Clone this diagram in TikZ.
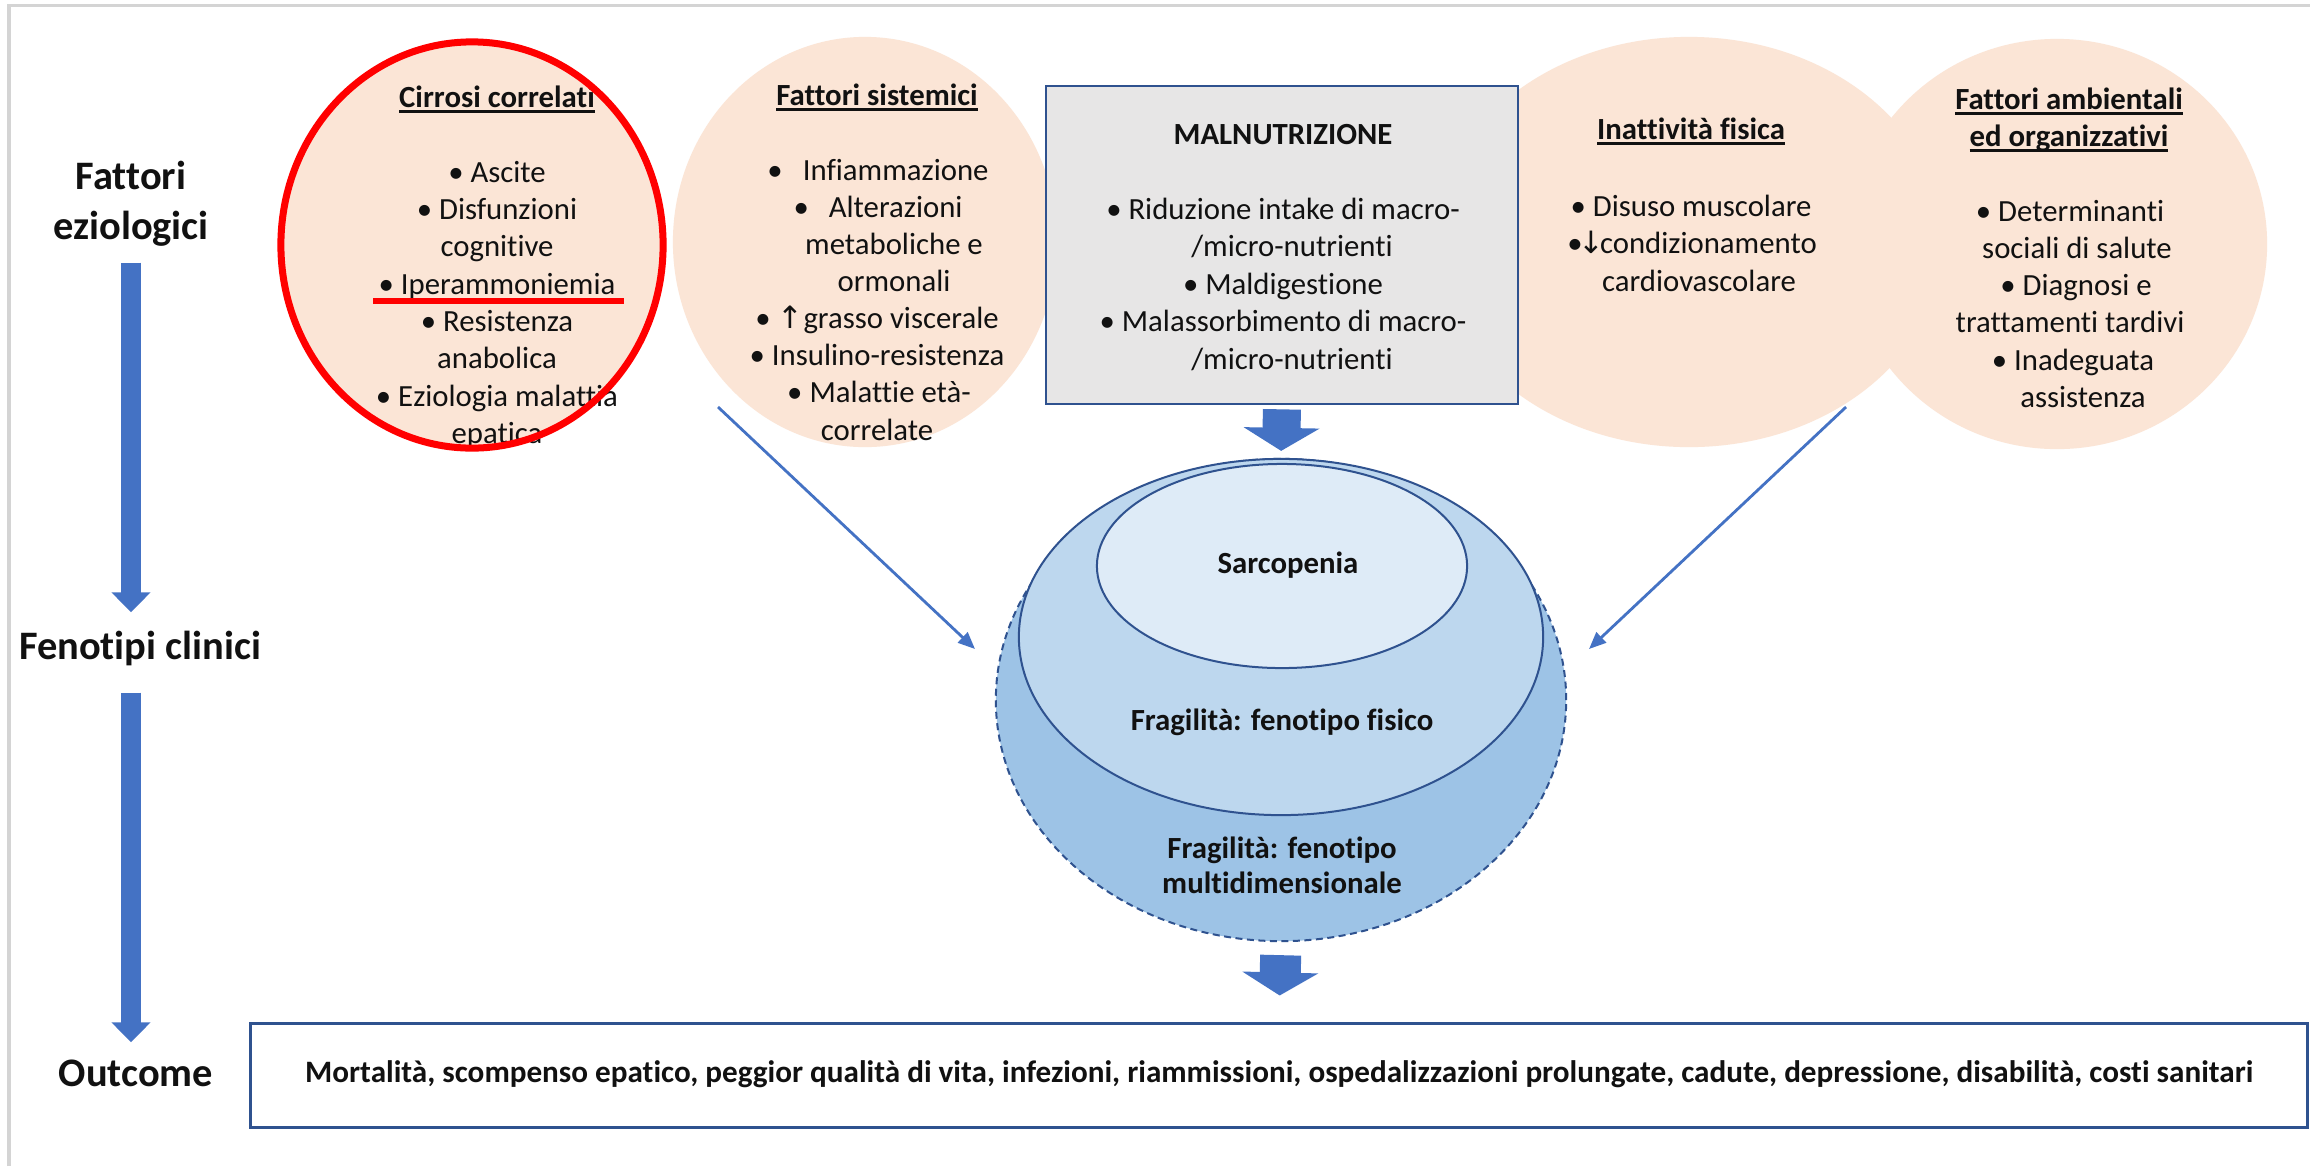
\documentclass[tikz,border=0pt]{standalone}
\usepackage{fontspec}
\setmainfont{Carlito}[Ligatures=NoCommon]
\newfontfamily\arrowfont{DejaVu Sans}
\usetikzlibrary{shapes.geometric,arrows.meta}

\definecolor{peach}{HTML}{FBE5D6}
\definecolor{boxgray}{HTML}{E7E6E6}
\definecolor{navy}{HTML}{2F528F}
\definecolor{accent}{HTML}{4472C4}
\definecolor{blueA}{HTML}{DEEBF7}
\definecolor{blueB}{HTML}{BDD7EE}
\definecolor{blueC}{HTML}{9DC3E6}
\definecolor{framegray}{HTML}{D4D4D4}
\definecolor{ink}{HTML}{111111}

% underline sitting just below the baseline, independent of descenders
\newsavebox\ulbox
\newcommand\ulin[1]{\sbox\ulbox{#1}\rlap{\rule[-0.17em]{\wd\ulbox}{0.08em}}\usebox\ulbox}

\tikzset{
  txt/.style={font=\fontsize{8.75pt}{10.5pt}\selectfont, text=ink, inner sep=0pt,
              text height=0.62em, text depth=0.2em, anchor=center},
  ttl/.style={txt, font=\fontsize{8.75pt}{10.5pt}\selectfont\bfseries},
  side/.style={font=\fontsize{11.5pt}{13pt}\selectfont\bfseries, text=ink, inner sep=0pt,
               text height=0.25cm, text depth=0.08cm},
  blob/.style={ellipse, fill=peach, draw=none, inner sep=0pt},
  layer/.style={ellipse, draw=navy, line width=0.02cm, inner sep=0pt},
  bigarrow/.style={accent, line width=0.2cm, -{Triangle[width=0.38cm,length=0.2cm]}},
  blockarrow/.style={accent, line width=0.38cm, -{Triangle[width=0.75cm,length=0.23cm]}},
  thinarrow/.style={accent, line width=0.028cm, -{Triangle[width=0.14cm,length=0.17cm]}},
}

\begin{document}
\begin{tikzpicture}[x=0.01cm, y=-0.01cm]
\useasboundingbox (0,0) rectangle (2310,1166);
\fill[white] (0,0) rectangle (2310,1166);

% page frame (top and left edges)
\draw[framegray, line width=0.03cm] (9,1166) -- (9,5) -- (2310,5);

% etiological factor bubbles
\node[blob, minimum width=3.82cm, minimum height=4.06cm] (cirr) at (472,245) {};
\node[blob, minimum width=3.84cm, minimum height=4.10cm] (sist) at (865,242) {};
\node[blob, minimum width=5.08cm, minimum height=4.10cm] (inatt) at (1689,242) {};
\node[blob, minimum width=4.20cm, minimum height=4.10cm] (amb) at (2057,244) {};

% malnutrition box
\node[draw=navy, fill=boxgray, line width=0.025cm, inner sep=0pt,
      minimum width=4.72cm, minimum height=3.18cm] (maln) at (1282,245) {};

% left column labels
\node[side] (fatt) at (131,181) {Fattori};
\node[side] (ezio) at (131,231) {eziologici};
\node[side] (feno) at (140,651) {Fenotipi clinici};
\node[side] (outl) at (136,1078) {Outcome};

% Cirrosi correlati
\node[ttl] (cirt) at (497,100) {\ulin{Cirrosi correlati}};
\foreach \t [count=\i] in {{• Ascite},{• Disfunzioni},{cognitive},{• Iperammoniemia},
    {• Resistenza},{anabolica},{• Eziologia malattia},{epatica}}
  \node[txt] (cir-\i) at (497,{175+37.3*(\i-1)}) {\t};

% Fattori sistemici
\node[ttl] (sist-t) at (877,98) {\ulin{Fattori sistemici}};
\foreach \x/\t [count=\i] in {878/{•\hspace{0.65em}Infiammazione},878/{•\hspace{0.65em}Alterazioni},
    894/{metaboliche e},894/{ormonali},877/{• {\arrowfont ↑}grasso viscerale},
    877/{• Insulino-resistenza},879/{• Malattie età-},877/{correlate}}
  \node[txt] (sis-\i) at (\x,{173+37.1*(\i-1)}) {\t};

% Malnutrizione
\node[ttl] (maln-t) at (1283,137) {MALNUTRIZIONE};
\foreach \x/\t [count=\i] in {1283/{• Riduzione intake di macro-},1292/{/micro-nutrienti},
    1283/{• Maldigestione},1283/{• Malassorbimento di macro-},1292/{/micro-nutrienti}}
  \node[txt] (mal-\i) at (\x,{212+37.5*(\i-1)}) {\t};

% Inattivita fisica
\node[ttl] (inatt-t) at (1691,132) {\ulin{Inattività fisica}};
\foreach \x/\t [count=\i] in {1691/{• Disuso muscolare},1692/{•\hspace{-0.12em}{\arrowfont ↓}\hspace{-0.15em}condizionamento},
    1699/{cardiovascolare}}
  \node[txt] (ina-\i) at (\x,{209+37.5*(\i-1)}) {\t};

% Fattori ambientali ed organizzativi
\node[ttl] (amb-t1) at (2069,102) {\ulin{Fattori ambientali}};
\node[ttl] (amb-t2) at (2069,139) {\ulin{ed organizzativi}};
\foreach \x/\t [count=\i] in {2070/{• Determinanti},2077/{sociali di salute},2076/{• Diagnosi e},
    2070/{trattamenti tardivi},2073/{• Inadeguata},2083/{assistenza}}
  \node[txt] (amb-\i) at (\x,{214+37.2*(\i-1)}) {\t};

% red highlight
\node[ellipse, draw=red, line width=0.07cm, inner sep=0pt,
      minimum width=3.82cm, minimum height=4.06cm] (hl) at (472,245) {};
\draw[red, line width=0.06cm] (373,301) -- (624,301);

% nested clinical phenotypes
\node[layer, fill=blueC, dash pattern=on 0.07cm off 0.045cm,
      minimum width=5.70cm, minimum height=4.82cm] (outer) at (1281,700) {};
\node[layer, fill=blueB, minimum width=5.24cm, minimum height=3.56cm] (middle) at (1281,637) {};
\node[layer, fill=blueA, minimum width=3.70cm, minimum height=2.04cm] (inner) at (1282,566) {};
\node[ttl] (sarc) at (1288,566) {Sarcopenia};
\node[ttl] (fis) at (1282,723) {Fragilità: fenotipo fisico};
\node[ttl] (multi1) at (1282,851) {Fragilità: fenotipo};
\node[ttl] (multi2) at (1282,886) {multidimensionale};

% outcome box
\node[draw=navy, fill=white, line width=0.03cm, inner sep=0pt,
      minimum width=20.56cm, minimum height=1.03cm, ttl,
      font=\fontsize{8.86pt}{10.5pt}\selectfont\bfseries,
      text height=0.62em, text depth=0.2em] (outc) at (1279,1075.5)
  {Mortalità, scompenso epatico, peggior qualità di vita, infezioni, riammissioni, ospedalizzazioni prolungate, cadute, depressione, disabilità, costi sanitari};

% left flow arrows
\draw[bigarrow, shorten <=0.145cm, shorten >=0.215cm] (ezio.south) -- (ezio.south |- feno.north);
\draw[bigarrow, shorten <=0.245cm, shorten >=0.185cm] (ezio.south |- feno.south) -- (ezio.south |- outl.north);

% block arrows
\draw[blockarrow, shorten <=0.04cm, shorten >=0.07cm] (maln.south) -- (outer.north);
\draw[blockarrow, line width=0.41cm, shorten <=0.13cm, shorten >=0.27cm] (outer.south) -- (outc.north);

% converging thin arrows
\coordinate (la) at (718,407);
\coordinate (lb) at (975,649);
\coordinate (ra) at (1846,407);
\coordinate (rb) at (1589,649);
\draw[thinarrow] (la) -- (lb);
\draw[thinarrow] (ra) -- (rb);
\end{tikzpicture}
\end{document}
